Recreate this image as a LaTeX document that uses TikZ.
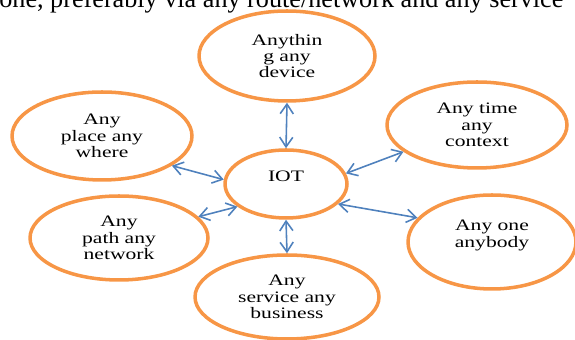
\documentclass[tikz,border=0pt]{standalone}
\usepackage{fontspec}
\setmainfont{Liberation Serif}
\newfontfamily\widefont[FakeStretch=1.35]{Liberation Serif}
\usepackage{tikz}
\usetikzlibrary{shapes.geometric,arrows.meta}

\definecolor{ringorange}{HTML}{F79646}
\definecolor{linkblue}{HTML}{4F81BD}

\tikzset{
  ring/.style={ellipse, draw=ringorange, line width=2pt, inner sep=0pt,
    align=center, font=\widefont\fontsize{9.1}{9.3}\selectfont},
  link/.style={<->, draw=linkblue, line width=0.9pt}
}

\begin{document}
\begin{tikzpicture}[x=0.02cm, y=0.02cm, >={Straight Barb[length=5.5pt,width=7.5pt]}]
                \useasboundingbox (0,0) rectangle (575,340);

                \node[anchor=base west, inner sep=0pt, font=\fontsize{14.9}{17}\selectfont] (bodytext) at (-1,332.5)
                    {one, preferably via any route/network and any service};

                \node[ring, minimum width=3.52cm, minimum height=1.8cm] (device) at (287,284) {Anythin\\g any\\device};
                \node[ring, minimum width=3.6cm, minimum height=1.76cm] (place) at (102,204) {Any\\place any\\where};
                \node[ring, minimum width=3.6cm, minimum height=1.72cm] (time) at (477,215) {Any time\\any\\context};
                \node[ring, minimum width=2.44cm, minimum height=1.36cm] (iot) at (286,156) {IOT\\ \mbox{}};
                \node[ring, minimum width=3.56cm, minimum height=1.68cm] (path) at (119,102) {Any\\path any\\network};
                \node[ring, minimum width=3.68cm, minimum height=1.68cm] (service) at (287,43) {Any\\service any\\business};
                \node[ring, minimum width=3.36cm, minimum height=1.88cm] (one) at (492,98) {Any one\\anybody\\ \mbox{}};

                \draw[link] (device.-90) -- (iot.90);
                \draw[link] (place.-23) -- (iot.176);
                \draw[link] (time.200) -- (iot.10);
                \draw[link] (path.15) -- (iot.205);
                \draw[link] (one.162) -- (iot.-21);
                \draw[link] (iot.-90) -- (service.90);
            \end{tikzpicture}
\end{document}
